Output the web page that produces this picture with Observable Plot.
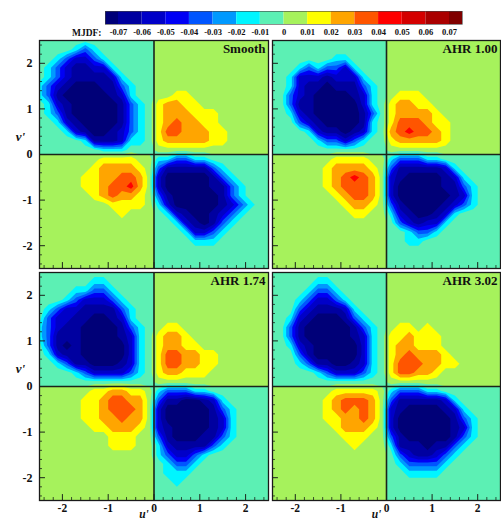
<!DOCTYPE html>
<html>
<head>
<meta charset="utf-8">
<script src="https://cdn.jsdelivr.net/npm/d3@7"></script>
<script src="https://cdn.jsdelivr.net/npm/@observablehq/plot@0.6"></script>
<style>
  html, body { margin: 0; padding: 0; background: #fff; }
  #fig { position: relative; width: 501px; height: 521px; overflow: hidden; }
  #fig > div { position: absolute; }
  svg { display: block; }
</style>
</head>
<body>
<div id="fig"></div>
<script>
// MJDF colour levels: one colour per 0.01 band, from below -0.07 to above 0.07
const bandColors = [
  "#000078", "#0000a0", "#0000c8", "#0000f5", "#0055ff", "#0099ff", "#00f5ff", "#5cf0b4",
  "#a6f25c", "#ffff00", "#ffa500", "#ff5500", "#ff0000", "#d40000", "#aa0000", "#800000"
];
const bandEdges = d3.range(-7, 8);          // band boundaries, in units of 0.01
const contourThresholds = d3.range(-8, 8);  // lowest threshold covers the whole field
const legendLabels = ["-0.07", "-0.06", "-0.05", "-0.04", "-0.03", "-0.02", "-0.01", "0",
                      "0.01", "0.02", "0.03", "0.04", "0.05", "0.06", "0.07"];
const uTicks = [-2, -1, 0, 1, 2];
const vTicks = [-2, -1, 0, 1, 2];
const minorTicks = [-2.4, -2.2, -1.8, -1.6, -1.4, -1.2, -0.8, -0.6, -0.4, -0.2,
                    0.2, 0.4, 0.6, 0.8, 1.2, 1.4, 1.6, 1.8, 2.2, 2.4];
const panelTitles = ["Smooth", "AHR 1.00", "AHR 1.74", "AHR 3.02"];

// Binned |MJDF| on a 26 x 26 grid (cell centres u', v' = -2.5 ... 2.5, step 0.2),
// rows from v' = 2.5 down to -2.5. Digit k means |MJDF| in [0.01k, 0.01(k+1));
// the sign follows the quadrant (negative in Q2 and Q4).
const smoothRows = [
  "00000000000000000000000000",
  "00001310000000000000000000",
  "00135531000000000000000000",
  "01356655100000000000000000",
  "01356666510000000000000000",
  "13567776631000000000000000",
  "13677777651000011000000000",
  "01567777763101221100000000",
  "01367777763101222111000000",
  "00156777763101232211000000",
  "00015677653101332221100000",
  "00000166651101222221100000",
  "00000001110000000000000000",
  "00000001111001133110000000",
  "00000012222103666663100000",
  "00000112233205777776310000",
  "00000112334205777776631000",
  "00000012322103677777631000",
  "00000000111101577777653100",
  "00000000010000156776531000",
  "00000000000000015676310000",
  "00000000000000001553100000",
  "00000000000000000111000000",
  "00000000000000000000000000",
  "00000000000000000000000000",
  "00000000000000000000000000"
];
const ahr100Rows = [
  "00000000000000000000000000",
  "00000000000000000000000000",
  "00000001100000000000000000",
  "00013133510000000000000000",
  "00155565551000000000000000",
  "00156676663100000000000000",
  "00356777765100111000000000",
  "00366777775101221100000000",
  "00156777776301222210000000",
  "00035677776101333211000000",
  "00001566765102343321000000",
  "00000133531001222221000000",
  "00000000000000000000000000",
  "00000001111001333110000000",
  "00000012222103666665100000",
  "00000012343205677776510000",
  "00000012333205777776631000",
  "00000001233205777777651000",
  "00000000122103677776531000",
  "00000000011001567765100000",
  "00000000000000356551000000",
  "00000000000000013310000000",
  "00000000000000011000000000",
  "00000000000000000000000000",
  "00000000000000000000000000",
  "00000000000000000000000000"
];
const ahr174Rows = [
  "00000000000000000000000000",
  "00000011000000000000000000",
  "00001133100000000000000000",
  "00013555310000000000000000",
  "01355666631000000000000000",
  "03556677651000000000000000",
  "13566777763100110000000000",
  "13666777765101221000000000",
  "03676777775101221100000000",
  "01566777775101332211000000",
  "00136677765101332211000000",
  "00001355553101221110000000",
  "00000000000000000000000000",
  "00000011221101333110000000",
  "00000112332203667765100000",
  "00000112333205777776310000",
  "00000112232205777776510000",
  "00000011222105677776510000",
  "00000000111003677766310000",
  "00000000111001566663100000",
  "00000000000001355310000000",
  "00000000000000133100000000",
  "00000000000000111000000000",
  "00000000000000010000000000",
  "00000000000000000000000000",
  "00000000000000000000000000"
];
const ahr302Rows = [
  "00000000000000000000000000",
  "00000110000000000000000000",
  "00001331000000000000000000",
  "00013553100000000000000000",
  "00035666510000000000000000",
  "00156777631000000000000000",
  "00367777763100110100000000",
  "00367777765101121110000000",
  "00156777775101221110000000",
  "00036777775101232221000000",
  "00013667765101333221100000",
  "00000135553101332210000000",
  "00000000000000000000000000",
  "00000001111101333110000000",
  "00000012333203666665100000",
  "00000012323205677776510000",
  "00000011223205777777631000",
  "00000001222105777777651000",
  "00000000111003677777631000",
  "00000000010001666766310000",
  "00000000000000356653100000",
  "00000000000000133331000000",
  "00000000000000011110000000",
  "00000000000000000000000000",
  "00000000000000000000000000",
  "00000000000000000000000000"
];

const N = 26;
const serif = '"Liberation Serif", "Times New Roman", serif';
const colorScale = {type: "threshold", domain: bandEdges, range: bandColors};

// Signed grid values (units of 0.01), bin middle of each band
function gridValues(rows) {
  const out = [];
  rows.forEach((row, i) => {
    const r = row.padEnd(N, "0").slice(0, N);
    for (let j = 0; j < N; j++) {
      const u = -2.5 + 0.2 * j, v = 2.5 - 0.2 * i;
      const sign = u * v < 0 ? -1 : 1;
      out.push(sign * (+r[j] + 0.5));
    }
  });
  return out;
}

const fig = document.getElementById("fig");
function place(node, left, top) {
  const wrap = document.createElement("div");
  wrap.style.left = left + "px";
  wrap.style.top = top + "px";
  wrap.appendChild(node);
  fig.appendChild(wrap);
}

// Colour legend
const legend = Plot.plot({
  width: 501, height: 38,
  marginLeft: 105, marginRight: 39, marginTop: 11, marginBottom: 14,
  x: {domain: [-7.55, 7.55], axis: null},
  y: {domain: [0, 1], axis: null},
  color: colorScale,
  style: {fontFamily: serif, background: "transparent", color: "#111", overflow: "visible"},
  marks: [
    Plot.rect(contourThresholds, {x1: d => d, x2: d => d + 1, y1: 0, y2: 1, fill: d => d, clip: true}),
    Plot.frame({stroke: "#444", strokeWidth: 0.6}),
    Plot.text(legendLabels, {x: d => +d * 100, y: 0, dy: 8, text: d => d,
      fontSize: 8.5, fontWeight: "bold", lineAnchor: "middle"}),
    Plot.text(["MJDF:"], {x: -7.55, y: 0, dx: -4, dy: 8, textAnchor: "end",
      fontSize: 9.5, fontWeight: "bold", lineAnchor: "middle"})
  ]
});
place(legend, 0, 0);

function panel(rows, title, {left, top, showV, showU}) {
  const mL = left === 0 ? 39 : 2, mR = left === 0 ? 2 : 1;
  const mT = 2, mB = top > 100 ? 21 : 2;
  const fw = left === 0 ? 229 : 228, fh = 228;
  const dark = "#1b241b";
  const marks = [
    Plot.contour(gridValues(rows), {
      width: N, height: N, x1: -2.6, x2: 2.6, y1: 2.6, y2: -2.6,
      value: d => d, fill: "value", thresholds: contourThresholds, stroke: "none", clip: true
    }),
    Plot.ruleX([0], {stroke: dark, strokeWidth: 1.6}),
    Plot.ruleY([0], {stroke: dark, strokeWidth: 1.6}),
    Plot.ruleX(uTicks, {x: d => d, y1: -2.5, y2: -2.37, stroke: dark, strokeWidth: 1}),
    Plot.ruleX(minorTicks, {x: d => d, y1: -2.5, y2: -2.435, stroke: dark, strokeWidth: 0.8}),
    Plot.ruleY(vTicks, {y: d => d, x1: -2.5, x2: -2.37, stroke: dark, strokeWidth: 1}),
    Plot.ruleY(minorTicks, {y: d => d, x1: -2.5, x2: -2.435, stroke: dark, strokeWidth: 0.8}),
    Plot.frame({stroke: "#1a1a1a", strokeWidth: 1.3}),
    Plot.text([title], {frameAnchor: "top-right", dx: -3, dy: 3, lineAnchor: "top",
      fontSize: 13, fontWeight: "bold", fill: "#111"})
  ];
  if (showV) {
    marks.push(
      Plot.text(vTicks, {x: -2.5, y: d => d, text: d => String(d), dx: -7, textAnchor: "end",
        fontSize: 12, fontWeight: "bold", fill: "#111"}),
      Plot.text(["v'"], {x: -2.5, y: 0.38, dx: -19, fontSize: 13, fontWeight: "bold",
        fontStyle: "italic", fill: "#111"})
    );
  }
  if (showU) {
    marks.push(
      Plot.text(uTicks, {x: d => d, y: -2.5, text: d => String(d), dy: 3, lineAnchor: "top",
        fontSize: 11.5, fontWeight: "bold", fill: "#111"}),
      Plot.text(["u'"], {x: 0, y: -2.5, dx: -10, dy: 17.5, lineAnchor: "bottom", fontSize: 11.5,
        fontWeight: "bold", fontStyle: "italic", fill: "#111"})
    );
  }
  return Plot.plot({
    width: fw + mL + mR, height: fh + mT + mB,
    marginLeft: mL, marginRight: mR, marginTop: mT, marginBottom: mB,
    x: {domain: [-2.5, 2.5], axis: null},
    y: {domain: [-2.5, 2.5], axis: null},
    color: colorScale,
    style: {fontFamily: serif, background: "transparent", color: "#111", overflow: "visible"},
    marks
  });
}

place(panel(smoothRows, panelTitles[0], {left: 0, top: 38, showV: true, showU: false}), 0, 38);
place(panel(ahr100Rows, panelTitles[1], {left: 270, top: 38, showV: false, showU: false}), 270, 38);
place(panel(ahr174Rows, panelTitles[2], {left: 0, top: 270, showV: true, showU: true}), 0, 270);
place(panel(ahr302Rows, panelTitles[3], {left: 270, top: 270, showV: false, showU: true}), 270, 270);
</script>
</body>
</html>
